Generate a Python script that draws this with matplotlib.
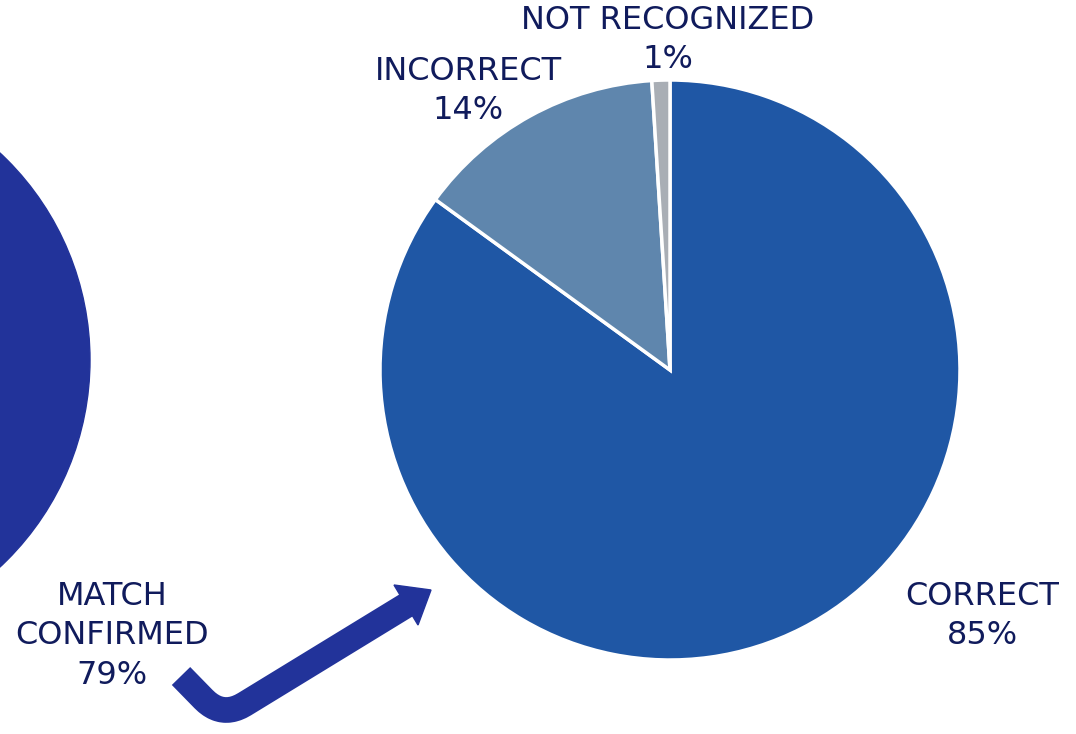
import numpy as np
import matplotlib.pyplot as plt
from matplotlib.patches import Circle, Polygon

# data
labels = ['CORRECT', 'INCORRECT', 'NOT RECOGNIZED']
values = [85, 14, 1]
colors = ['#1F57A5', '#5F86AD', '#A9AEB5']
match_label = 'MATCH\nCONFIRMED'
match_value = 79

W, H = 1076, 734
txt = '#101B5C'
navy = '#22339A'

fig = plt.figure(figsize=(W / 100, H / 100), dpi=100)
ax = fig.add_axes([0, 0, 1, 1])


def py(y):
    # pixel row -> data y
    return H - y


# main pie
ax.pie(values, colors=colors, startangle=90, counterclock=False,
       center=(670, py(370)), radius=290,
       wedgeprops=dict(edgecolor='white', linewidth=2.5))

# partial circle on the left (match confirmed)
ax.add_patch(Circle((-193, py(360)), 283, color=navy, zorder=1))

# bent arrow with a rounded corner
p0 = np.array([181, 676.0])
c = np.array([222, 718.0])
p1 = np.array([410, 603.0])
a = c + (p0 - c) * 0.45
b = c + (p1 - c) * 0.12
t = np.linspace(0, 1, 12)[:, None]
curve = (1 - t) ** 2 * a + 2 * (1 - t) * t * c + t ** 2 * b
pts = np.vstack([p0, curve, p1])
ax.plot(pts[:, 0], H - pts[:, 1], color=navy, linewidth=18.5,
        solid_joinstyle='round', solid_capstyle='butt', zorder=3)
ax.add_patch(Polygon([[431, py(590)], [394, py(585)], [418, py(625)]],
                     closed=True, color=navy, zorder=3))

fs = 23
ls = 1.36
ax.text(982, py(616), f'{labels[0]}\n{values[0]}%', ha='center', va='center',
        fontsize=fs, color=txt, linespacing=ls)
ax.text(468, py(91), f'{labels[1]}\n{values[1]}%', ha='center', va='center',
        fontsize=fs, color=txt, linespacing=ls)
ax.text(668, py(40), f'{labels[2]}\n{values[2]}%', ha='center', va='center',
        fontsize=fs, color=txt, linespacing=ls)
ax.text(112, py(636), f'{match_label}\n{match_value}%', ha='center', va='center',
        fontsize=fs, color=txt, linespacing=ls)

ax.set_xlim(0, W)
ax.set_ylim(0, H)
ax.set_aspect('equal')
ax.axis('off')

fig.savefig('out.png', dpi=100)
